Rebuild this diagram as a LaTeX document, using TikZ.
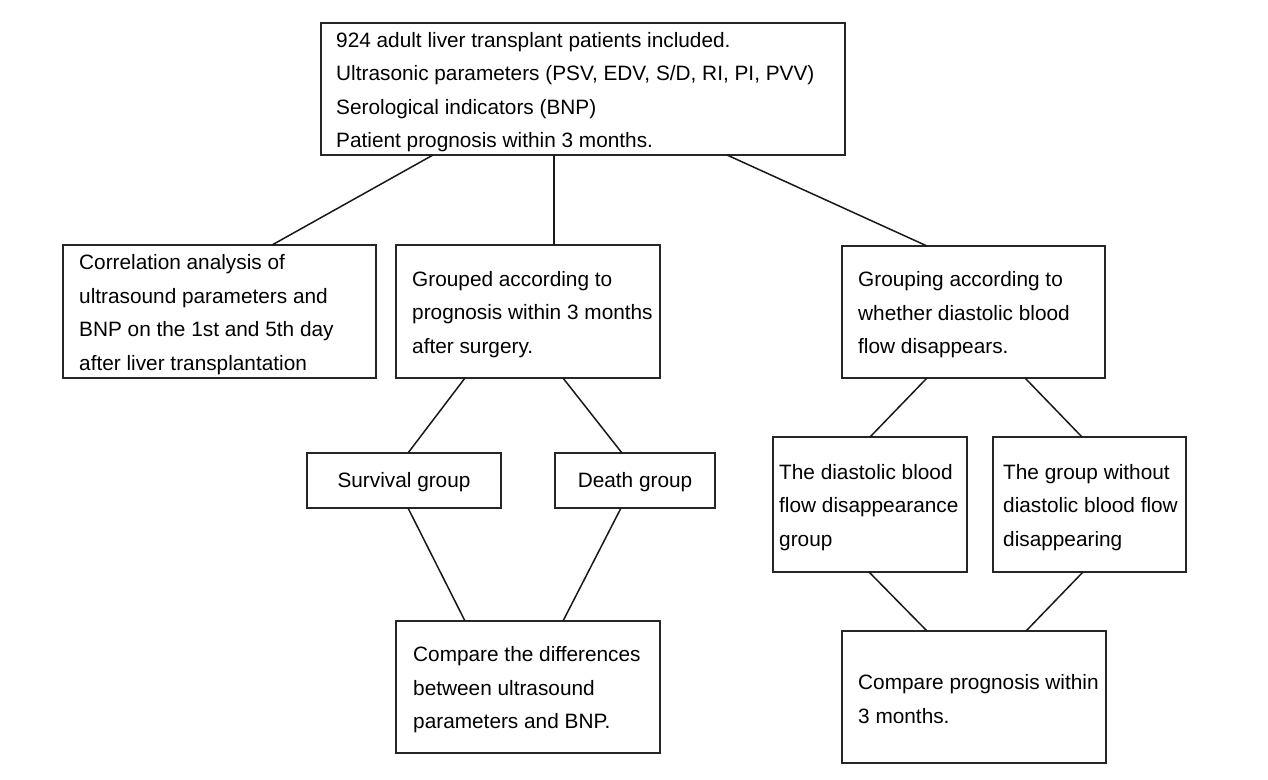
\documentclass[tikz,border=0pt]{standalone}
\usepackage{fontspec}
\setmainfont{Liberation Sans}
\begin{document}
\begin{tikzpicture}[x=1pt,y=-1pt,
  box/.style={draw=black!85, line width=1.7pt, inner sep=0pt, outer sep=0pt},
  txt/.style={inner sep=0pt, align=left, anchor=west, font=\fontsize{20.8}{33.5}\selectfont},
  ctxt/.style={inner sep=0pt, align=center, font=\fontsize{20.8}{33.5}\selectfont},
  link/.style={draw=black!90, line width=1.5pt}]
\useasboundingbox (0,0) rectangle (1268,779);

% boxes
\node[box, minimum width=524pt, minimum height=132pt] (top) at (583,89) {};
\node[box, minimum width=313pt, minimum height=133pt] (corr) at (219.5,311.5) {};
\node[box, minimum width=264pt, minimum height=133pt] (grp) at (528,311.5) {};
\node[box, minimum width=263pt, minimum height=132pt] (dgrp) at (973.5,312) {};
\node[box, minimum width=194pt, minimum height=55pt] (surv) at (404,480.5) {};
\node[box, minimum width=160pt, minimum height=55pt] (death) at (635,480.5) {};
\node[box, minimum width=194pt, minimum height=135pt] (dis) at (870,504.5) {};
\node[box, minimum width=193pt, minimum height=135pt] (nodis) at (1089.5,504.5) {};
\node[box, minimum width=264pt, minimum height=132pt] (cmpd) at (528,687) {};
\node[box, minimum width=264pt, minimum height=132pt] (cmpp) at (974,697) {};

% texts
\node[txt] (toptxt) at ([xshift=15pt,yshift=-3pt]top.west) {924 adult liver transplant patients included.\\Ultrasonic parameters (PSV, EDV, S/D, RI, PI, PVV)\\Serological indicators (BNP)\\Patient prognosis within 3 months.};
\node[txt] (corrtxt) at ([xshift=16pt,yshift=-3pt]corr.west) {Correlation analysis of\\ultrasound parameters and\\BNP on the 1st and 5th day\\after liver transplantation};
\node[txt] (grptxt) at ([xshift=16pt,yshift=-3pt]grp.west) {Grouped according to\\prognosis within 3 months\\after surgery.};
\node[txt] (dgrptxt) at ([xshift=16pt,yshift=-3pt]dgrp.west) {Grouping according to\\whether diastolic blood\\flow disappears.};
\node[ctxt] (survtxt) at ([yshift=-2pt]surv.center) {Survival group};
\node[ctxt] (deathtxt) at ([yshift=-2pt]death.center) {Death group};
\node[txt] (distxt) at ([xshift=6pt,yshift=-3pt]dis.west) {The diastolic blood\\flow disappearance\\group};
\node[txt] (nodistxt) at ([xshift=10pt,yshift=-3pt]nodis.west) {The group without\\diastolic blood flow\\disappearing};
\node[txt] (cmpdtxt) at ([xshift=17pt,yshift=-3pt]cmpd.west) {Compare the differences\\between ultrasound\\parameters and BNP.};
\node[txt] (cmpptxt) at ([xshift=16pt,yshift=-2pt]cmpp.west) {Compare prognosis within\\3 months.};

% connectors
\draw[link] ([xshift=-150pt]top.south) -- ([xshift=52.5pt]corr.north);
\draw[link] ([xshift=-29pt]top.south) -- ([xshift=26pt]grp.north);
\draw[link] ([xshift=144pt]top.south) -- ([xshift=-46.5pt]dgrp.north);
\draw[link] ([xshift=-63pt]grp.south) -- ([xshift=4pt]surv.north);
\draw[link] ([xshift=35pt]grp.south) -- ([xshift=-13pt]death.north);
\draw[link] ([xshift=4pt]surv.south) -- ([xshift=-63pt]cmpd.north);
\draw[link] ([xshift=-14pt]death.south) -- ([xshift=35pt]cmpd.north);
\draw[link] ([xshift=-46.5pt]dgrp.south) -- (dis.north);
\draw[link] ([xshift=51.5pt]dgrp.south) -- ([xshift=-7.5pt]nodis.north);
\draw[link] ([xshift=-1pt]dis.south) -- ([xshift=-47pt]cmpp.north);
\draw[link] ([xshift=-6.5pt]nodis.south) -- ([xshift=52pt]cmpp.north);
\end{tikzpicture}
\end{document}
